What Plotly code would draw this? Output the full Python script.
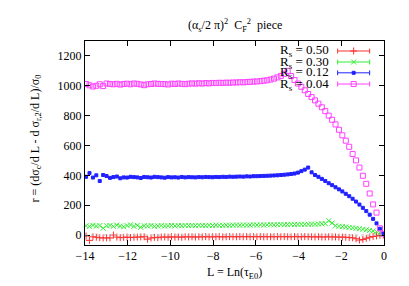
import plotly.graph_objects as go

# L values (bin centres)
L = [-13.95, -13.79, -13.63, -13.47, -13.31, -13.15, -12.99, -12.83, -12.67, -12.51,
     -12.35, -12.19, -12.03, -11.87, -11.71, -11.55, -11.39, -11.23, -11.07, -10.91,
     -10.75, -10.59, -10.43, -10.27, -10.11, -9.95, -9.79, -9.63, -9.47, -9.31,
     -9.15, -8.99, -8.83, -8.67, -8.51, -8.35, -8.19, -8.03, -7.87, -7.71,
     -7.55, -7.39, -7.23, -7.07, -6.91, -6.75, -6.59, -6.43, -6.27, -6.11,
     -5.95, -5.79, -5.63, -5.47, -5.31, -5.15, -4.99, -4.83, -4.67, -4.51,
     -4.35, -4.19, -4.03, -3.87, -3.71, -3.55, -3.39, -3.23, -3.07, -2.91,
     -2.75, -2.59, -2.43, -2.27, -2.11, -1.95, -1.79, -1.63, -1.47, -1.31,
     -1.15, -0.99, -0.83, -0.67, -0.51, -0.35, -0.19, -0.03]

r_050 = [-7, -36, -12, -15, -18, -20, -19, -20, 0, -14,
         -18, -16, -14, -17, -15, -14, -13, -12, -28, -20,
         -16, -18, -14, -13, -15, -12, -14, -13, -15, -12,
         -13, -12, -14, -12, -13, -11, -13, -12, -12, -11,
         -13, -12, -11, -12, -12, -11, -12, -11, -12, -11,
         -12, -11, -12, -11, -12, -12, -11, -12, -11, -12,
         -12, -11, -12, -12, -11, -12, -12, -13, -12, -13,
         -13, -12, -13, -13, -14, -14, -15, -17, -19, -25,
         -34, -30, -22, -15, -10, -6, -2, 0]

r_030 = [62, 58, 65, 60, 63, 45, 62, 64, 58, 66,
         60, 55, 63, 68, 58, 65, 52, 62, 60, 64,
         58, 61, 63, 60, 62, 64, 61, 63, 62, 64,
         63, 64, 63, 65, 64, 63, 65, 64, 66, 65,
         64, 66, 65, 66, 67, 66, 67, 66, 67, 68,
         67, 68, 67, 68, 69, 68, 69, 70, 69, 70,
         71, 70, 71, 72, 71, 72, 73, 72, 74, 75,
         77, 95, 80, 62, 58, 56, 54, 51, 48, 45,
         42, 38, 35, 31, 27, 22, 15, 5]

r_012 = [390, 415, 385, 400, 362, 402, 395, 383, 388, 392,
         380, 386, 385, 390, 388, 386, 382, 389, 387, 385,
         390, 388, 386, 384, 388, 386, 387, 385, 389, 386,
         388, 387, 386, 388, 387, 389, 388, 387, 389, 388,
         390, 389, 391, 390, 391, 392, 391, 393, 392, 394,
         394, 395, 396, 397, 398, 399, 400, 402, 404, 406,
         409, 412, 418, 428, 438, 452, 420, 402, 390, 376,
         362, 347, 334, 320, 306, 292, 276, 260, 243, 224,
         204, 182, 160, 136, 108, 78, 42, 12]

r_004 = [1012, 1003, 995, 1000, 1010, 998, 1015, 1012, 1010, 1013,
         1008, 1012, 1014, 1010, 1015, 1013, 1009, 1004, 1010, 1012,
         1015, 1013, 1012, 1011, 1009, 1014, 1012, 1015, 1013, 1011,
         1014, 1016, 1014, 1017, 1015, 1018, 1016, 1019, 1018, 1020,
         1019, 1021, 1020, 1022, 1022, 1024, 1023, 1025, 1026, 1028,
         1029, 1031, 1034, 1037, 1042, 1048, 1056, 1066, 1080, 1100,
         1065, 1038, 1015, 993, 970, 945, 924, 902, 880, 856,
         830, 800, 772, 741, 705, 668, 632, 591, 543, 500,
         452, 397, 343, 278, 205, 150, 45, 8]

labels = ["R<sub>s</sub> = 0.50", "R<sub>s</sub> = 0.30", "R<sub>s</sub> = 0.12", "R<sub>s</sub> = 0.04"]
colors = ["#ff3030", "#30ee30", "#2020ff", "#ff40ff"]
symbols = ["cross-thin-open", "x-thin-open", "square", "square-open"]
msizes = [5, 5, 3, 5]
series = [r_050, r_030, r_012, r_004]

FONT = "Liberation Serif, Times New Roman, DejaVu Serif, serif"
fig = go.Figure()

fig.add_hline(y=0, line=dict(color="#bbbbbb", width=1, dash="dot"))

for ys, c, s, ms in zip(series, colors, symbols, msizes):
    fig.add_trace(go.Scatter(
        x=L, y=ys, mode="markers",
        marker=dict(symbol=s, size=ms, color=c, line=dict(color=c, width=1)),
        showlegend=False))

# custom gnuplot-like key (text left, sample right)
key_y = [0.951, 0.897, 0.844, 0.789]
for lab, c, s, ms, ky in zip(labels, colors, symbols, msizes, key_y):
    fig.add_annotation(x=0.823, y=ky, xref="paper", yref="paper", text=lab,
                       showarrow=False, xanchor="right", yanchor="middle",
                       font=dict(family=FONT, size=13, color="black"))
    fig.add_shape(type="line", xref="paper", yref="paper", x0=0.845, x1=0.952,
                  y0=ky, y1=ky, line=dict(color=c, width=1))
    for xe in (0.845, 0.952):
        fig.add_shape(type="line", xref="paper", yref="paper", x0=xe, x1=xe,
                      y0=ky - 0.012, y1=ky + 0.012, line=dict(color=c, width=1))
    fig.add_trace(go.Scatter(x=[0.8985], y=[ky], xaxis="x2", yaxis="y2", mode="markers",
                             marker=dict(symbol=s, size=ms, color=c, line=dict(color=c, width=1)),
                             showlegend=False, hoverinfo="skip"))

axis_common = dict(showgrid=False, zeroline=False, ticks="inside", ticklen=5,
                   tickcolor="black", showline=True, linecolor="black", linewidth=1,
                   mirror="allticks", tickfont=dict(family=FONT, size=12, color="black"))

fig.update_layout(
    width=409, height=286,
    margin=dict(l=77, r=33, t=33, b=49, autoexpand=False),
    paper_bgcolor="white", plot_bgcolor="white",
    font=dict(family=FONT, size=12, color="black"),
    xaxis=dict(range=[-14, 0], tickvals=[-14, -12, -10, -8, -6, -4, -2, 0], **axis_common),
    yaxis=dict(range=[-67, 1300], tickvals=[0, 200, 400, 600, 800, 1000, 1200], **axis_common),
    xaxis2=dict(range=[0, 1], overlaying="x", visible=False, fixedrange=True),
    yaxis2=dict(range=[0, 1], overlaying="y", visible=False, fixedrange=True),
    showlegend=False,
)

fig.add_annotation(x=0.5, y=1.0, xref="paper", yref="paper", yshift=16,
                   text="(α<sub>s</sub>/2 π)<sup>2</sup>  C<sub>F</sub><sup>2</sup>  piece",
                   showarrow=False, xanchor="center", yanchor="middle",
                   font=dict(family=FONT, size=12, color="black"))
fig.add_annotation(x=0.5, y=-0.136, xref="paper", yref="paper",
                   text="L = Ln(τ<sub>E0</sub>)", showarrow=False,
                   xanchor="center", yanchor="middle",
                   font=dict(family=FONT, size=12, color="black"))
fig.add_annotation(x=-0.165, y=0.52, xref="paper", yref="paper", textangle=-90,
                   text="r = (dσ<sub>c</sub>/d L - d σ<sub>r,2</sub>/d L)/σ<sub>0</sub>",
                   showarrow=False, xanchor="center", yanchor="middle",
                   font=dict(family=FONT, size=12, color="black"))

fig.write_html("out.html")
